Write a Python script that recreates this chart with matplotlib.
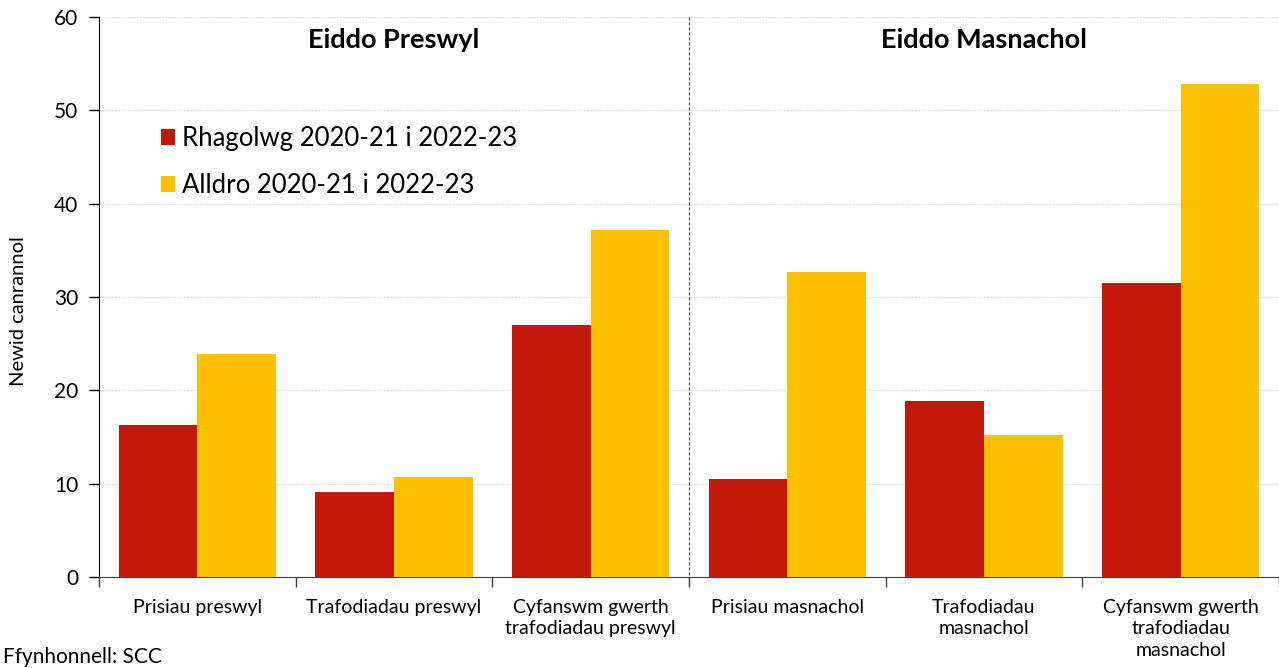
import numpy as np
import matplotlib.pyplot as plt
from matplotlib.ticker import FixedLocator, NullFormatter

plt.rcParams['font.family'] = ['Lato', 'DejaVu Sans']

# Data
categorias = ['Prisiau preswyl', 'Trafodiadau preswyl', 'Cyfanswm gwerth\ntrafodiadau preswyl',
              'Prisiau masnachol', 'Trafodiadau\nmasnachol', 'Cyfanswm gwerth\ntrafodiadau\nmasnachol']
rhagolwg = [16.3, 9.1, 27.0, 10.5, 18.9, 31.5]
alldro = [23.9, 10.7, 37.2, 32.7, 15.2, 52.8]
labels = ['Rhagolwg 2020-21 i 2022-23', 'Alldro 2020-21 i 2022-23']

coch = '#C41808'
melyn = '#FFC000'

fig = plt.figure(figsize=(12.79, 6.68), dpi=100)
ax = fig.add_axes([0.0774, 0.1362, 0.9226, 0.8384])

x = np.arange(len(categorias))
w = 0.4
ax.bar(x - w / 2, rhagolwg, w, color=coch, label=labels[0], zorder=3)
ax.bar(x + w / 2, alldro, w, color=melyn, label=labels[1], zorder=3)

ax.set_xlim(-0.5, len(categorias) - 0.5)
ax.set_ylim(0, 60)
ax.set_yticks(np.arange(0, 61, 10))
ax.tick_params(axis='y', labelsize=15, length=7, width=1, pad=8)

# category labels in the middle, tick marks on the boundaries
ax.set_xticks(x)
ax.set_xticklabels(categorias, fontsize=14, linespacing=1.3)
ax.tick_params(axis='x', which='major', length=0, pad=16)
ax.xaxis.set_minor_locator(FixedLocator(np.arange(-0.5, len(categorias), 1.0)))
ax.xaxis.set_minor_formatter(NullFormatter())
ax.tick_params(axis='x', which='minor', length=7, width=1, color='#404040')

ax.grid(axis='y', color='#DDDDDD', linestyle=(0, (1.5, 1)), linewidth=0.9, zorder=0)
for s in ['top', 'right']:
    ax.spines[s].set_visible(False)
ax.spines['left'].set_color('black')
ax.spines['bottom'].set_color('#404040')

# divider between the two groups
ax.axvline(2.5, ymin=-0.015, ymax=1, color='#505050', linestyle=(0, (2.5, 1.5)), linewidth=0.9, clip_on=False)

ax.text(1.0, 57.5, 'Eiddo Preswyl', ha='center', va='center', fontsize=19.5, fontweight='bold')
ax.text(4.0, 57.5, 'Eiddo Masnachol', ha='center', va='center', fontsize=19.5, fontweight='bold')

ax.set_ylabel('Newid canrannol', fontsize=14.5)
ax.yaxis.set_label_coords(-0.061, 0.475)

ax.legend(loc='upper left', bbox_to_anchor=(0.0525, 0.805), frameon=False, fontsize=18.5,
          handlelength=0.55, handleheight=0.55, handletextpad=0.25, labelspacing=0.85,
          borderpad=0, borderaxespad=0)

fig.text(0.002, 0.001, 'Ffynhonnell: SCC', ha='left', va='bottom', fontsize=15)

fig.savefig('out.png', dpi=100)
